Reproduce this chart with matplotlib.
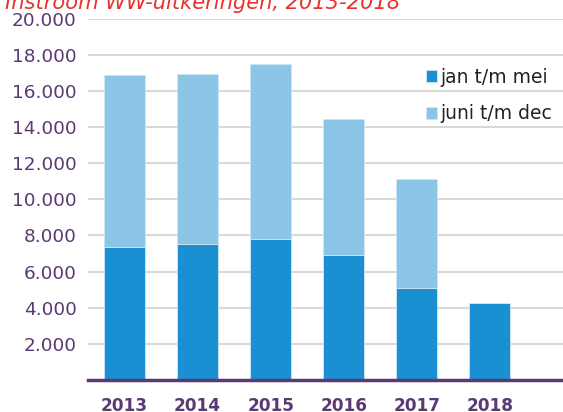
import matplotlib.pyplot as plt
import numpy as np

# Instroom WW-uitkeringen per jaar (aantal)
years = ['2013', '2014', '2015', '2016', '2017', '2018']
jan_mei = [7370, 7530, 7810, 6940, 5110, 4250]
juni_dec = [9530, 9420, 9690, 7510, 6040, 0]
yticks = [2000, 4000, 6000, 8000, 10000, 12000, 14000, 16000, 18000, 20000]
ytick_labels = ['2.000', '4.000', '6.000', '8.000', '10.000', '12.000',
                '14.000', '16.000', '18.000', '20.000']

dark_blue = '#1A8FD1'
light_blue = '#8BC6E6'
purple = '#5B3A73'

fig = plt.figure(figsize=(5.63, 4.12), dpi=100)
ax = fig.add_axes([0.156, 0.078, 0.844, 0.876])

x = np.arange(len(years))
ax.bar(x, jan_mei, width=0.56, color=dark_blue, label='jan t/m mei',
       edgecolor='#CFE6F4', linewidth=0.6, zorder=3)
ax.bar(x, juni_dec, width=0.56, bottom=jan_mei, color=light_blue,
       label='juni t/m dec', edgecolor='#CFE6F4', linewidth=0.6, zorder=3)

ax.set_xlim(-0.5, 6.0)
ax.set_ylim(0, 20000)
ax.set_yticks(yticks)
ax.set_yticklabels(ytick_labels)
ax.set_xticks(x)
ax.set_xticklabels(years, fontweight='bold')
ax.tick_params(axis='y', length=0, pad=8, labelsize=13.3, labelcolor=purple)
ax.tick_params(axis='x', length=0, pad=12, labelsize=12.2, labelcolor=purple)

ax.grid(axis='y', color='#D9D9D9', linewidth=1.5, zorder=0)
for s in ['top', 'right', 'left']:
    ax.spines[s].set_visible(False)
ax.spines['bottom'].set_color(purple)
ax.spines['bottom'].set_linewidth(2.5)
ax.spines['bottom'].set_zorder(4)

ax.legend(loc='upper left', bbox_to_anchor=(426 / 563, 0.835),
          bbox_transform=fig.transFigure, frameon=False,
          borderpad=0, borderaxespad=0,
          handlelength=0.6, handleheight=0.6, handletextpad=0.18,
          labelspacing=0.92, fontsize=13.5, labelcolor='#222222')

# title, partly outside the picture as in the original
fig.text(0.009, 0.979, 'Instroom WW-uitkeringen, 2013-2018', color='#E8322A',
         fontsize=15.1, fontstyle='italic', ha='left', va='baseline')

fig.savefig('out.png', dpi=100)
